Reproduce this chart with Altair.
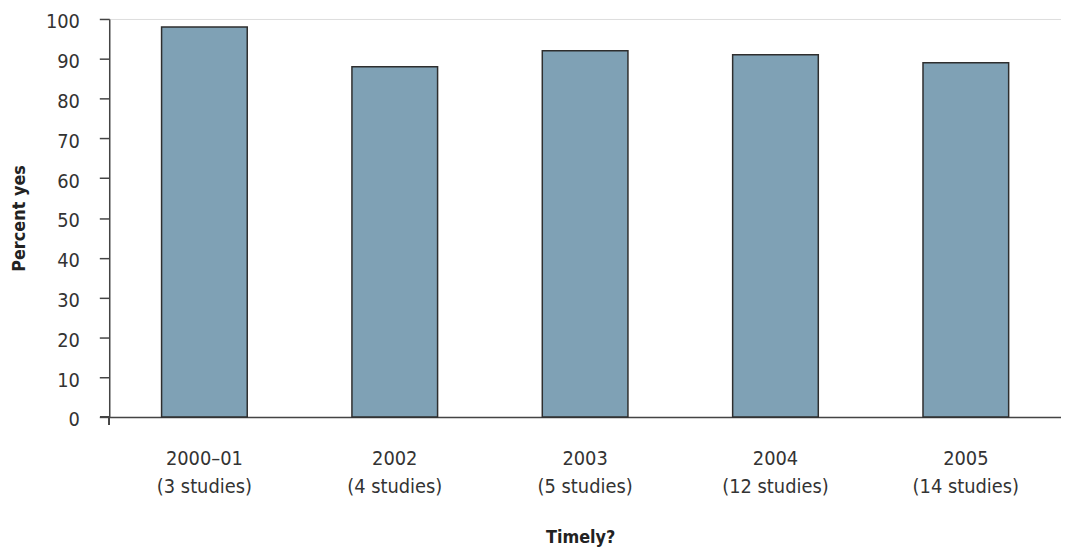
import altair as alt
import pandas as pd

categories = ["2000–01\n(3 studies)", "2002\n(4 studies)", "2003\n(5 studies)", "2004\n(12 studies)", "2005\n(14 studies)"]
values = [98, 88, 92, 91, 89]

df = pd.DataFrame({"cat": categories, "val": values})

FONT = "DejaVu Sans Condensed, Liberation Sans Narrow, sans-serif"
W, H = 959, 401

bars = alt.Chart(df).mark_bar(color="#7fa1b5", stroke="#2e2e2e", strokeWidth=1.5).encode(
    x=alt.X("cat:N", sort=categories, title="Timely?",
            scale=alt.Scale(paddingInner=0.55, paddingOuter=0.275),
            axis=alt.Axis(labelAngle=0, labelExpr="split(datum.label, '\\n')",
                          labelFontSize=20, labelLineHeight=28, labelPadding=32,
                          ticks=False, domain=True, domainColor="#444444", domainWidth=1.5,
                          labelColor="#333333", titleFontSize=18, titleFontWeight="bold",
                          titleColor="#222222", titleX=W / 2 - 5, titleY=122,
                          titleBaseline="middle", titleAlign="center",
                          titleFont=FONT, labelFont=FONT)),
    y=alt.Y("val:Q", title="Percent yes", scale=alt.Scale(domain=[0, 100], nice=False),
            axis=alt.Axis(values=list(range(0, 101, 10)), grid=False, tickSize=10, tickColor="#444444",
                          domain=True, domainColor="#444444", domainWidth=1.5, tickWidth=1.5,
                          labelFontSize=20, labelPadding=20, labelColor="#333333", labelOffset=3,
                          titleFontSize=18, titleFontWeight="bold", titleColor="#222222",
                          titleX=-90, titleY=H / 2, titleAngle=-90, titleAlign="center",
                          titleBaseline="middle", titleFont=FONT, labelFont=FONT)),
)

xline = alt.Chart(df).mark_rule(color="#444444", strokeWidth=1.5).encode(
    x=alt.value(-9), x2=alt.value(0), y=alt.value(H)
)
ytick = alt.Chart(df).mark_rule(color="#444444", strokeWidth=1.5).encode(
    x=alt.value(0), y=alt.value(H), y2=alt.value(H + 8)
)

chart = alt.layer(bars, xline, ytick).properties(
    width=W, height=H,
    autosize=alt.AutoSizeParams(type="none"),
    padding={"left": 102, "top": 9, "right": 0, "bottom": 131},
).configure_view(stroke=None).configure(background="white")

chart.save("out.html", embed_options={"renderer": "svg", "actions": False})
